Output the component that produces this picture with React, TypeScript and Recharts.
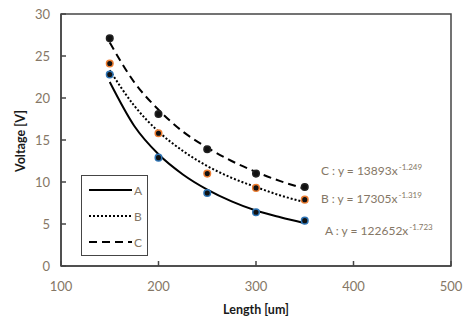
import React from "react";
import {
  ComposedChart, Line, Scatter, XAxis, YAxis, ZAxis, ReferenceArea
} from "recharts";

// measured points
const lengths = [150, 200, 250, 300, 350];
const voltA = [22.8, 12.9, 8.7, 6.4, 5.4];
const voltB = [24.1, 15.8, 11.0, 9.3, 7.9];
const voltC = [27.1, 18.1, 13.9, 11.0, 9.4];

// trend curves
const trendLengths = [150, 175, 200, 225, 250, 275, 300, 325, 350];
const trendA = [21.9, 16.7, 13.3, 10.9, 9.1, 7.7, 6.6, 5.8, 5.1];
const trendB = [23.3, 19.1, 16.0, 13.7, 11.9, 10.5, 9.4, 8.4, 7.6];
const trendC = [26.6, 21.9, 18.6, 16.0, 14.1, 12.5, 11.2, 10.1, 9.2];

const seriesNames = ["A", "B", "C"];
const fitCoefs = ["122652", "17305", "13893"];
const fitExps = ["-1.723", "-1.319", "-1.249"];

const xTicks = [100, 200, 300, 400, 500];
const yTicks = [0, 5, 10, 15, 20, 25, 30];

const LABEL = "#857766";
const AXIS = "#454545";
const FONT = "Lato, 'Open Sans', sans-serif";

const toPoints = (xs: number[], ys: number[]) => xs.map((x, i) => ({ x, y: ys[i] }));

const dash = ["0", "2 2", "8 5"];
const markerStroke = ["#2e75b6", "#ed7d31", "#222"];

function LegendBox() {
  return (
    <div style={{ position: "absolute", left: 81, top: 175, width: 65, height: 79, border: `1.5px solid ${AXIS}`, background: "#fff", fontFamily: FONT, fontSize: 12, color: LABEL }}>
      {seriesNames.map((n, i) => (
        <div key={n} style={{ display: "flex", alignItems: "center", height: 26, marginTop: i === 0 ? 1 : 0 }}>
          <svg width={50} height={10} style={{ marginLeft: 6 }}>
            <line x1={1} y1={5} x2={44} y2={5} stroke="#000" strokeWidth={2.2} strokeDasharray={dash[i]} />
          </svg>
          <span style={{ marginLeft: -4 }}>{n}</span>
        </div>
      ))}
    </div>
  );
}

// equation label positions (top, left) in px
const eqTop = [162, 190, 222];
const eqLeft = [321, 321, 325];

export default function App() {
  const sets = [
    { pts: toPoints(lengths, voltA), trend: toPoints(trendLengths, trendA) },
    { pts: toPoints(lengths, voltB), trend: toPoints(trendLengths, trendB) },
    { pts: toPoints(lengths, voltC), trend: toPoints(trendLengths, trendC) },
  ];
  const eqOrder = [2, 1, 0];
  return (
    <div style={{ position: "absolute", left: 0, top: 0, width: 468, height: 322, background: "#fff" }}>
      <ComposedChart width={468} height={322} margin={{ top: 14, right: 17, bottom: 26, left: 21 }}>
        <ReferenceArea x1={100} x2={500} y1={0} y2={30} fill="none" stroke={AXIS} strokeWidth={1.5} />
        <XAxis
          type="number" dataKey="x" domain={[100, 500]} ticks={xTicks}
          allowDataOverflow height={30}
          stroke={AXIS} strokeWidth={1.5}
          tickSize={-5} tickMargin={21}
          tick={{ fill: LABEL, fontSize: 13, fontFamily: FONT }}
        />
        <YAxis
          type="number" dataKey="y" domain={[0, 30]} ticks={yTicks} width={40}
          stroke={AXIS} strokeWidth={1.5}
          tickSize={-5} tickMargin={16}
          tick={{ fill: LABEL, fontSize: 13, fontFamily: FONT }}
        />
        <ZAxis range={[34, 34]} />
        {sets.map((s, i) => (
          <Line
            key={`t${i}`} data={s.trend} dataKey="y" type="monotone"
            stroke="#000" strokeWidth={2} strokeDasharray={dash[i]}
            dot={false} activeDot={false} isAnimationActive={false}
          />
        ))}
        {sets.map((s, i) => (
          <Scatter
            key={`p${i}`} data={s.pts} dataKey="y"
            fill="#111" stroke={markerStroke[i]} strokeWidth={1.5}
            isAnimationActive={false}
          />
        ))}
      </ComposedChart>

      <LegendBox />

      {eqOrder.map((k, j) => (
        <div key={k} style={{ position: "absolute", left: eqLeft[j], top: eqTop[j], fontFamily: FONT, fontSize: 12, color: LABEL, whiteSpace: "nowrap" }}>
          {seriesNames[k]} : y = {fitCoefs[k]}x
          <sup style={{ fontSize: 8, marginLeft: 1 }}>{fitExps[k]}</sup>
        </div>
      ))}

      <div style={{ position: "absolute", left: 0, width: 512, top: 302, textAlign: "center", fontFamily: FONT, fontSize: 12.5, fontWeight: 700, color: "#1a1a1a" }}>
        Length [um]
      </div>
      <div style={{ position: "absolute", left: 20, top: 141, width: 0, height: 0 }}>
        <div style={{ position: "absolute", transform: "translate(-50%, -50%) rotate(-90deg)", whiteSpace: "nowrap", fontFamily: FONT, fontSize: 12.5, fontWeight: 700, color: "#1a1a1a" }}>
          Voltage [V]
        </div>
      </div>
    </div>
  );
}
